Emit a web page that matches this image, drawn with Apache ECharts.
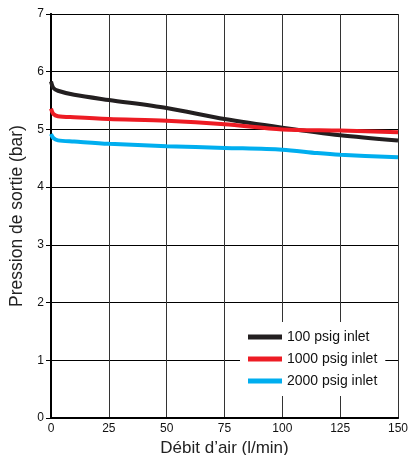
<!DOCTYPE html>
<html>
<head>
<meta charset="utf-8">
<script src="https://cdn.jsdelivr.net/npm/echarts@6/dist/echarts.min.js"></script>
<style>
  html, body { margin: 0; padding: 0; background: #fff; }
  #chart { width: 409px; height: 455px; }
</style>
</head>
<body>
<div id="chart"></div>
<script>
// debit d'air (l/min) -> pression de sortie (bar)
var inlet100 = [[0, 5.83], [1, 5.72], [3, 5.67], [10, 5.6], [25, 5.51], [50, 5.37], [75, 5.18], [100, 5.03], [125, 4.9], [150, 4.81]];
var inlet1000 = [[0, 5.36], [1, 5.27], [3, 5.23], [10, 5.21], [25, 5.18], [50, 5.15], [75, 5.09], [100, 5.0], [125, 4.98], [150, 4.95]];
var inlet2000 = [[0, 4.92], [1, 4.85], [3, 4.81], [10, 4.79], [25, 4.75], [50, 4.71], [75, 4.68], [100, 4.65], [115, 4.59], [125, 4.56], [150, 4.52]];
var seriesNames = ['100 psig inlet', '1000 psig inlet', '2000 psig inlet'];
var colors = ['#231f20', '#ed1c24', '#00aeef'];

var font = 'Liberation Sans, Arial, sans-serif';
var myChart = echarts.init(document.getElementById('chart'), null, { renderer: 'canvas' });

function line(name, data, color) {
    return {
        name: name,
        type: 'line',
        data: data,
        smooth: 0.3,
        showSymbol: false,
        lineStyle: { width: 4, color: color },
        itemStyle: { color: color }
    };
}

var option = {
    animation: false,
    backgroundColor: '#fff',
    textStyle: { fontFamily: font },
    grid: { left: 51, right: 11, top: 14, bottom: 37, outerBoundsMode: 'none', containLabel: false },
    legend: {
        orient: 'vertical',
        left: 240,
        top: 322,
        padding: [8, 8, 8, 8],
        backgroundColor: '#fff',
        itemGap: 8,
        itemWidth: 34,
        itemHeight: 5,
        icon: 'rect',
        textStyle: { fontSize: 14, color: '#111', fontFamily: font },
        data: seriesNames
    },
    xAxis: [{
        type: 'value',
        min: 0,
        max: 150,
        interval: 25,
        name: 'Débit d\u2019air (l/min)',
        nameLocation: 'middle',
        nameGap: 18,
        nameTextStyle: { fontSize: 17, color: '#222', fontFamily: font },
        axisLine: { lineStyle: { color: '#000', width: 2 } },
        axisTick: { show: false },
        axisLabel: { fontSize: 12, color: '#111', margin: 5 },
        splitLine: { show: true, lineStyle: { color: '#333', width: 1 } }
    }, {
        type: 'value',
        position: 'top',
        min: 0,
        max: 150,
        axisLine: { show: true, lineStyle: { color: '#000', width: 1.5 } },
        axisTick: { show: false },
        axisLabel: { show: false },
        splitLine: { show: false }
    }],
    yAxis: [{
        type: 'value',
        min: 0,
        max: 7,
        interval: 1,
        name: 'Pression de sortie (bar)',
        nameLocation: 'middle',
        nameGap: 24,
        nameTextStyle: { fontSize: 17.5, color: '#222', fontFamily: font },
        axisLine: { show: true, lineStyle: { color: '#000', width: 2 } },
        axisTick: { show: true, length: 5, lineStyle: { color: '#000' } },
        axisLabel: { fontSize: 12, color: '#111', margin: 7 },
        splitLine: { show: true, lineStyle: { color: '#000', width: 1 } }
    }, {
        type: 'value',
        position: 'right',
        min: 0,
        max: 7,
        axisLine: { show: true, lineStyle: { color: '#000', width: 2 } },
        axisTick: { show: false },
        axisLabel: { show: false },
        splitLine: { show: false }
    }],
    series: [
        line(seriesNames[0], inlet100, colors[0]),
        line(seriesNames[1], inlet1000, colors[1]),
        line(seriesNames[2], inlet2000, colors[2])
    ]
};
myChart.setOption(option);
</script>
</body>
</html>
